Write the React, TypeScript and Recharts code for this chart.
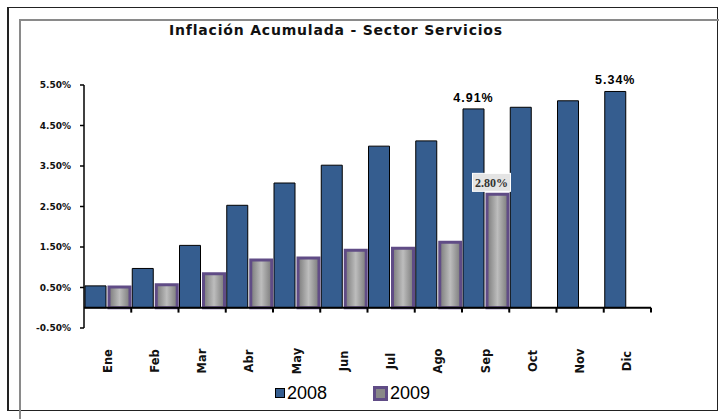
import { BarChart, Bar, XAxis, YAxis, ReferenceLine, LabelList, Legend } from 'recharts'

const months = ['Ene', 'Feb', 'Mar', 'Abr', 'May', 'Jun', 'Jul', 'Ago', 'Sep', 'Oct', 'Nov', 'Dic']
const values2008 = [0.54, 0.97, 1.54, 2.53, 3.08, 3.52, 3.99, 4.12, 4.91, 4.95, 5.11, 5.34]
const values2009 = [0.51, 0.57, 0.84, 1.18, 1.23, 1.42, 1.47, 1.62, 2.8, null, null, null]
const labels2008 = ['', '', '', '', '', '', '', '', '4.91%', '', '', '5.34%']
const labels2009 = ['', '', '', '', '', '', '', '', '2.80%', '', '', '']
const yTicks = [-0.5, 0.5, 1.5, 2.5, 3.5, 4.5, 5.5]

const data = months.map((m, i) => ({
  month: m,
  v2008: values2008[i],
  v2009: values2009[i],
  l2008: labels2008[i],
  l2009: labels2009[i],
}))

const BLUE = '#355d8f'
const PURPLE = '#604c86'
const FONT = '"Liberation Sans", Arial, sans-serif'
const BOLD_FONT = '"DejaVu Sans", Verdana, sans-serif'

const MonthTick = ({ x, y, payload }: any) => (
  <text
    x={0}
    y={0}
    transform={`translate(${x},${y + 33}) rotate(-90)`}
    textAnchor="middle"
    dy="0.35em"
    fontFamily={BOLD_FONT}
    fontWeight="bold"
    fontSize={11.5}
    fill="#111"
  >
    {payload.value}
  </text>
)

const TopLabel = ({ x, y, width, value }: any) => {
  if (!value) return null
  return (
    <text
      x={x + width / 2}
      y={y - 7}
      textAnchor="middle"
      fontFamily={FONT}
      fontWeight="bold"
      fontSize={12.5}
      letterSpacing={1}
      fill="#000"
    >
      {value}
    </text>
  )
}

const BoxLabel = ({ x, y, width, value }: any) => {
  if (!value) return null
  const cx = x + width / 2 - 6
  return (
    <g>
      <rect x={cx - 19} y={y - 21} width={38} height={18} fill="#e4e4e4" stroke="#fff" strokeWidth={1} />
      <text
        x={cx}
        y={y - 12}
        dy="0.35em"
        textAnchor="middle"
        fontFamily='"Liberation Serif", "Times New Roman", serif'
        fontWeight="bold"
        fontSize={12}
        fill="#333"
      >
        {value}
      </text>
    </g>
  )
}

const renderLegend = () => (
  <div style={{ display: 'flex', justifyContent: 'center', paddingRight: 14, height: 22, fontFamily: FONT, fontSize: 18, color: '#000' }}>
    <div style={{ display: 'flex', alignItems: 'center', marginRight: 46 }}>
      <span style={{ width: 8, height: 8, background: BLUE, border: '1px solid #000', marginRight: 2 }} />
      <span>2008</span>
    </div>
    <div style={{ display: 'flex', alignItems: 'center' }}>
      <span style={{ width: 9, height: 9, background: '#888', border: `3px solid ${PURPLE}`, marginRight: 2 }} />
      <span>2009</span>
    </div>
  </div>
)

export default function App() {
  return (
    <div style={{ position: 'absolute', left: 0, top: 0, width: 719, height: 419, background: '#fff', overflow: 'hidden' }}>
      <div style={{ position: 'absolute', left: 7, top: 7, width: 708, height: 402, border: '1px solid #222', borderLeftWidth: 2 }} />
      <div style={{ position: 'absolute', left: 19, top: 19, width: 700, height: 400, borderLeft: '2px solid #8a8a8a', borderTop: '2px solid #8a8a8a' }} />
      <div
        style={{
          position: 'absolute',
          left: 0,
          top: 22,
          width: 672,
          textAlign: 'center',
          fontFamily: BOLD_FONT,
          fontWeight: 'bold',
          fontSize: 14,
          letterSpacing: 0.8,
          color: '#111',
        }}
      >
        Inflación Acumulada - Sector Servicios
      </div>
      <BarChart
        width={719}
        height={419}
        data={data}
        margin={{ top: 85, right: 68, bottom: 10, left: 0 }}
        barCategoryGap={1}
        barGap={3}
      >
        <defs>
          <linearGradient id="grad2009" x1="0" y1="0" x2="1" y2="0">
            <stop offset="0%" stopColor="#7a7a7a" />
            <stop offset="50%" stopColor="#bdbdbd" />
            <stop offset="100%" stopColor="#7a7a7a" />
          </linearGradient>
        </defs>
        <XAxis
          dataKey="month"
          axisLine={false}
          tickLine={false}
          tickSize={0}
          tickMargin={0}
          height={59}
          interval={0}
          tick={<MonthTick />}
        />
        <YAxis
          type="number"
          domain={[-0.5, 5.5]}
          ticks={yTicks}
          interval={0}
          width={84}
          axisLine={{ stroke: '#000', strokeWidth: 1.5 }}
          tickLine={{ stroke: '#000', strokeWidth: 1.5 }}
          tickSize={4}
          tickMargin={9}
          tickFormatter={(v: number) => `${v.toFixed(2)}%`}
          tick={{ fontFamily: BOLD_FONT, fontWeight: 'bold', fontSize: 9, fill: '#111' }}
        />
        <Legend verticalAlign="bottom" content={renderLegend} wrapperStyle={{ left: 0, width: 719, bottom: 15 }} />
        <Bar dataKey="v2008" fill={BLUE} stroke="#000" strokeWidth={1} isAnimationActive={false}>
          <LabelList dataKey="l2008" content={<TopLabel />} />
        </Bar>
        <Bar dataKey="v2009" fill="url(#grad2009)" stroke={PURPLE} strokeWidth={3} isAnimationActive={false}>
          <LabelList dataKey="l2009" content={<BoxLabel />} />
        </Bar>
        <ReferenceLine y={0} stroke="#000" strokeWidth={2} ifOverflow="visible" />
        {months.slice(1).map((m) => (
          <ReferenceLine
            key={m}
            segment={[{ x: m, y: 0 }, { x: m, y: -0.12 }]}
            position="start"
            stroke="#000"
            strokeWidth={2}
            ifOverflow="visible"
          />
        ))}
        <ReferenceLine
          segment={[{ x: months[months.length - 1], y: 0 }, { x: months[months.length - 1], y: -0.12 }]}
          position="end"
          stroke="#000"
          strokeWidth={2}
          ifOverflow="visible"
        />
      </BarChart>
    </div>
  )
}
